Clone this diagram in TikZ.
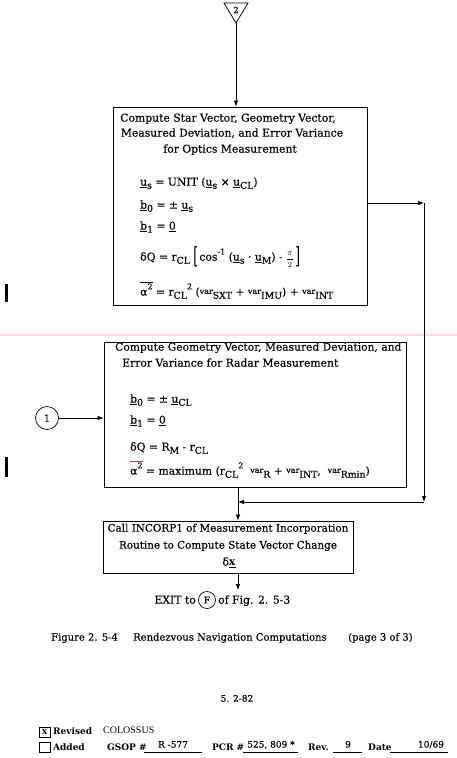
\documentclass[tikz,border=0pt]{standalone}
\usepackage{fontspec}
\setmainfont{DejaVu Serif}[UprightFeatures={FakeBold=0.3}]
\newfontfamily\lserif{Liberation Serif}
\usetikzlibrary{arrows.meta}
\definecolor{scanpink}{RGB}{248,215,240}
\definecolor{redbar}{RGB}{185,60,60}
\newcommand\vu[1]{\underline{#1}}
\newcommand\dn[1]{\raisebox{-0.55ex}{\fontsize{9.3}{10}\selectfont #1}}
\newcommand\up[1]{\raisebox{1.1ex}{\fontsize{8}{9}\selectfont #1}}
\newcommand\vr{\raisebox{0.3ex}{\fontsize{8}{9}\selectfont var}}
\newcommand\ovl[2]{{\color{#1}$\overline{\hbox{\color{black}#2}}$}}
\newcommand\halfpi{\raisebox{-0.1ex}{\fontsize{8.5}{9}\selectfont$\displaystyle\frac{\pi}{2}$}}
\begin{document}
\begin{tikzpicture}[x=1pt,y=-1pt,
  box/.style={draw, line width=0.8pt, inner sep=0pt},
  arr/.style={-{Latex[length=6pt,width=4.5pt]}, line width=0.7pt},
  txt/.style={inner sep=0pt, font=\fontsize{10.8}{13}\selectfont},
  lt/.style={txt, anchor=mid west},
  ct/.style={txt, anchor=mid},
  ft/.style={inner sep=0pt, anchor=mid west, font=\fontsize{9}{11}\selectfont},
  fb/.style={ft, font=\fontsize{9}{11}\selectfont\bfseries},
]
\path[use as bounding box, fill=white] (0,0) rectangle (457,758);
% scan artefact and change bars
\draw[scanpink, line width=1.5pt] (0,335) -- (457,335);
\draw[line width=3pt] (6,284) -- (6,302);
\draw[line width=3pt] (6,457) -- (6,477);

% off-page connector 2
\draw[line width=0.7pt] (224,3) -- (248,3) -- (236,23) -- cycle;
\node[txt, font=\fontsize{8.5}{9}\selectfont] (l2) at (236,10) {2};
\coordinate (t2) at (236,23);

% box 1
\node[box, minimum width=254pt, minimum height=198pt] (b1) at (240,206) {};
\draw[arr] (t2) -- (t2 |- b1.north);
\node[ct] (b1a) at (228,119) {Compute Star Vector, Geometry Vector,};
\node[ct] (b1b) at (232,134) {Measured Deviation, and Error Variance};
\node[ct] (b1c) at (230,150) {for Optics Measurement};
\node[lt] (e11) at (140,183) {\vu{u}\dn{s} = UNIT (\vu{u}\dn{s} × \vu{u}\dn{CL})};
\node[lt] (e12) at (140,206) {\vu{b}\dn{0} = ± \vu{u}\dn{s}};
\node[lt] (e13) at (140,227) {\vu{b}\dn{1} = \vu{0}};
\node[lt] (e14) at (140,258) {δQ = r\dn{CL} \raisebox{-0.5ex}{\scalebox{1}[2.1]{[}}\,cos\up{-1} (\vu{u}\dn{s} · \vu{u}\dn{M}) - \halfpi\,\raisebox{-0.5ex}{\scalebox{1}[2.1]{]}}};
\node[lt] (e15) at (140,293) {\ovl{black}{α\up{2}} = r\dn{CL}\up{2} (\vr\dn{SXT} + \vr\dn{IMU}) + \vr\dn{INT}};

% box 2
\node[box, minimum width=302pt, minimum height=145pt] (b2) at (255,414.5) {};
\node[lt, font=\fontsize{10.7}{13}\selectfont] (b2a) at (115,348) {Compute Geometry Vector, Measured Deviation, and};
\node[lt] (b2b) at (122,364) {Error Variance for Radar Measurement};
\node[lt] (e21) at (130,400) {\vu{b}\dn{0} = ± \vu{u}\dn{CL}};
\node[lt] (e22) at (130,421) {\vu{b}\dn{1} = \vu{0}};
\node[lt] (e23) at (130,448) {δQ = R\dn{M} - r\dn{CL}};
\node[lt] (e24) at (130,472) {\ovl{redbar}{α\up{2}} = maximum (r\dn{CL}\up{2}\ \ \vr\dn{R} + \vr\dn{INT},\ \ \vr\dn{Rmin})};

% connector 1
\node[draw, circle, line width=0.7pt, minimum size=23pt, inner sep=0pt, font=\fontsize{9.5}{10}\selectfont] (c1) at (47,418) {1};
\draw[arr] (c1) -- (c1 -| b2.west);

% right-hand loop
\coordinate (r1) at (424,203);
\coordinate (r2) at (424,502);
\coordinate (j) at (238,502);
\draw[arr] (b1.east |- r1) -- (r1);
\draw[arr] (r1) -- (r2);
\draw[arr] (r2) -- (j);

% box 3
\node[box, minimum width=250pt, minimum height=52pt] (b3) at (228,547) {};
\draw[arr] (b2.south -| j) -- (b3.north -| j);
\node[ct, font=\fontsize{10.4}{12}\selectfont] (b3a) at (228,529) {Call INCORP1 of Measurement Incorporation};
\node[ct, font=\fontsize{10.4}{12}\selectfont] (b3b) at (228,546) {Routine to Compute State Vector Change};
\node[ct] (b3c) at (229,563) {δ\vu{\textbf{x}}};

% exit
\coordinate (e) at (238,590);
\draw[arr] (b3.south -| e) -- (e);
\node[txt, anchor=mid east] (ex1) at (196,601) {EXIT to};
\node[draw, circle, line width=0.7pt, minimum size=17pt, inner sep=0pt, font=\fontsize{9.5}{10}\selectfont] (cf) at (207,600) {F};
\node[txt, anchor=mid west] (ex2) at (218,601) {of Fig. 2. 5-3};

% caption
\node[lt, font=\fontsize{10}{12}\selectfont] (cap1) at (51,638) {Figure 2. 5-4};
\node[lt, font=\fontsize{10}{12}\selectfont] (cap2) at (133,638) {Rendezvous Navigation Computations};
\node[lt, font=\fontsize{10}{12}\selectfont] (cap3) at (348,638) {(page 3 of 3)};

% footer
\node[ct, font=\fontsize{9}{11}\selectfont] (pg) at (237,699) {5. 2-82};
\node[draw, line width=0.8pt, minimum width=11pt, minimum height=10pt, inner sep=0pt, font=\fontsize{7}{8}\selectfont\bfseries] (cb1) at (44.5,732) {X};
\node[draw, line width=0.8pt, minimum width=11pt, minimum height=10pt, inner sep=0pt] (cb2) at (44.5,747.5) {};
\node[fb] (rev) at (53,732) {Revised};
\node[fb] (add) at (53,747.5) {Added};
\node[ft, font=\fontsize{10}{11}\selectfont\lserif] (col) at (103,731) {COLOSSUS};
\node[fb] (gsop) at (107,747.5) {GSOP \#};
\draw[line width=0.6pt] (144,752) -- (202,752);
\node[ft, anchor=mid] (gsopv) at (173,745) {R -577};
\node[fb] (pcr) at (212,747.5) {PCR \#};
\draw[line width=0.6pt] (243,752) -- (298,752);
\node[ft, anchor=mid] (pcrv) at (271,745) {525, 809 *};
\node[fb] (rv) at (308,747.5) {Rev.};
\draw[line width=0.6pt] (333,752) -- (362,752);
\node[ft, anchor=mid] (rvv) at (348,745) {9};
\node[fb] (dt) at (368,747.5) {Date};
\draw[line width=0.6pt] (390,752) -- (448,752);
\node[ft, anchor=mid] (dtv) at (431,745) {10/69};
\end{tikzpicture}
\end{document}
